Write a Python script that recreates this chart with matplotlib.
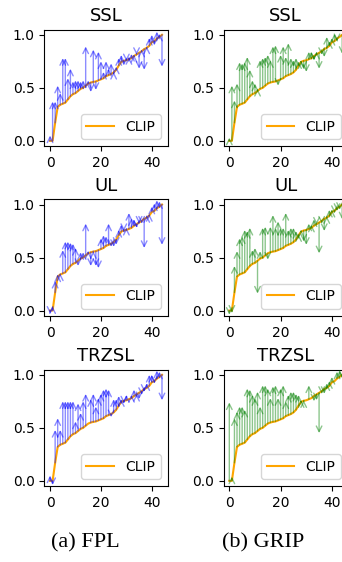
import matplotlib
matplotlib.use("Agg")
import matplotlib.pyplot as plt

# per-class accuracy, classes sorted by CLIP accuracy
clip = [0.0, 0.0, 0.17, 0.32, 0.34, 0.35, 0.36, 0.39, 0.42, 0.44, 0.45, 0.47, 0.49, 0.50, 0.52,
        0.54, 0.55, 0.556, 0.56, 0.57, 0.58, 0.59, 0.61, 0.62, 0.63, 0.645, 0.67, 0.71, 0.745, 0.755,
        0.76, 0.77, 0.78, 0.80, 0.815, 0.83, 0.845, 0.865, 0.877, 0.896, 0.93, 0.94, 0.965, 0.98, 1.0]

fpl_ssl = [0.05, 0.37, 0.37, 0.52, 0.45, 0.78, 0.78, 0.59, 0.68, 0.56, 0.57, 0.57, 0.56, 0.57, 0.89,
           0.57, 0.46, 0.86, 0.48, 0.84, 0.75, 0.65, 0.75, 0.68, 0.73, 0.65, 0.70, 0.78, 0.81, 0.71,
           0.75, 0.79, 0.82, 0.81, 0.81, 0.68, 0.86, 0.67, 0.89, 0.97, 1.0, 0.90, 1.03, 1.01, 0.70]
fpl_ul = [-0.03, 0.04, 0.28, 0.34, 0.35, 0.57, 0.65, 0.65, 0.64, 0.63, 0.59, 0.42, 0.55, 0.55, 0.82,
          0.56, 0.42, 0.56, 0.42, 0.40, 0.68, 0.71, 0.70, 0.82, 0.60, 0.60, 0.62, 0.76, 0.81, 0.75,
          0.78, 0.92, 0.87, 0.86, 0.78, 0.82, 0.82, 0.59, 0.90, 0.91, 0.98, 1.01, 1.04, 1.03, 0.62]
fpl_trzsl = [0.05, -0.04, 0.48, 0.59, 0.48, 0.75, 0.75, 0.75, 0.75, 0.75, 0.56, 0.73, 0.64, 0.75, 0.82,
             0.54, 0.77, 0.82, 0.70, 0.78, 0.82, 0.86, 0.87, 0.86, 0.60, 0.77, 0.77, 0.80, 0.77, 0.73,
             0.81, 0.77, 0.81, 0.86, 0.82, 0.77, 0.81, 0.84, 0.92, 1.0, 1.0, 0.92, 1.04, 1.03, 0.76]

grip_ssl = [0.03, 0.52, 0.38, 0.54, 0.74, 0.73, 0.74, 0.79, 0.67, 0.57, 0.54, 0.49, 0.76, 0.78, 0.79,
            0.81, 0.76, 0.89, 0.90, 0.52, 0.81, 0.89, 0.79, 0.92, 0.78, 0.76, 0.78, 0.75, 0.75, 0.68,
            0.65, 0.84, 0.84, 0.76, 0.84, 0.68, 0.81, 0.79, 0.98, 0.94, 0.97, 1.01, 0.94, 0.98, 0.82]
grip_ul = [-0.04, -0.02, 0.42, 0.56, 0.68, 0.70, 0.76, 0.75, 0.78, 0.57, 0.59, 0.16, 0.56, 0.78, 0.79,
           0.48, 0.79, 0.90, 0.78, 0.84, 0.78, 0.78, 0.92, 0.76, 0.78, 0.78, 0.75, 0.72, 0.76, 0.65,
           0.62, 0.82, 0.81, 0.86, 0.81, 0.54, 0.82, 0.75, 0.89, 0.95, 0.95, 0.92, 0.94, 0.95, 0.86]
grip_trzsl = [0.74, 0.04, 0.59, 0.65, 0.70, 0.70, 0.67, 0.87, 0.86, 0.81, 0.78, 0.84, 0.70, 0.90, 0.90,
              0.87, 0.78, 0.89, 0.90, 0.78, 0.87, 0.90, 0.75, 0.81, 0.84, 0.84, 0.82, 0.81, 0.76, 0.76,
              0.76, 0.90, 0.78, 0.75, 0.76, 0.45, 0.82, 0.82, 0.92, 0.94, 0.98, 0.94, 1.03, 1.04, 0.97]

settings = ["SSL", "UL", "TRZSL"]
methods = {
    "FPL": ([fpl_ssl, fpl_ul, fpl_trzsl], "blue"),
    "GRIP": ([grip_ssl, grip_ul, grip_trzsl], "green"),
}

fig = plt.figure(figsize=(3.42, 5.62), dpi=100)

lefts = [0.130, 0.654]
widths = [0.360, 0.363]
bottoms = [0.740, 0.438, 0.135]

for col, (name, (series, color)) in enumerate(methods.items()):
    for row, setting in enumerate(settings):
        ax = fig.add_axes([lefts[col], bottoms[row], widths[col], 0.2075])
        x = list(range(len(clip)))
        ax.plot(x, clip, color="orange", linewidth=1.5, label="CLIP")
        for i, (c, v) in enumerate(zip(clip, series[row])):
            ax.annotate("", xy=(i, v), xytext=(i, c),
                        arrowprops=dict(arrowstyle="->", color=color, alpha=0.45,
                                        lw=1.0, shrinkA=0, shrinkB=0))
        ax.set_title(setting, fontsize=13)
        ax.set_xticks([0, 20, 40])
        ax.set_yticks([0.0, 0.5, 1.0])
        ax.tick_params(labelsize=10)
        ax.legend(loc="lower right", fontsize=10)

fig.text(0.249, 0.034, "(a) FPL", ha="center", va="center",
         family="Liberation Serif", fontsize=16)
fig.text(0.770, 0.034, "(b) GRIP", ha="center", va="center",
         family="Liberation Serif", fontsize=16)

fig.savefig("out.png", dpi=100)
